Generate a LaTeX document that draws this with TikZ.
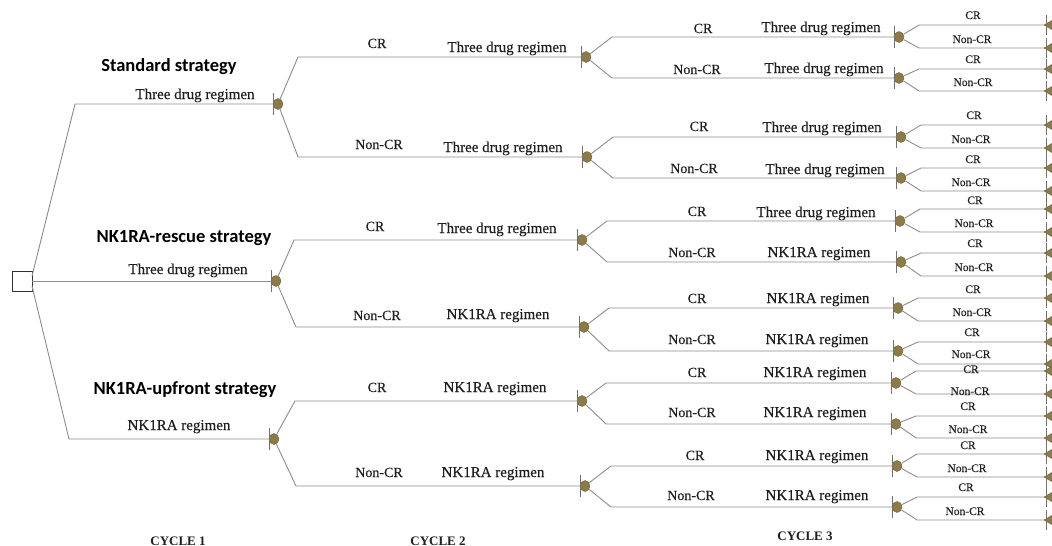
\documentclass[tikz,border=0pt]{standalone}
\usepackage{fontspec}
\setmainfont{Liberation Serif}
\newfontfamily\labfont[FakeBold=0.25]{Liberation Serif}
\newfontfamily\stratfont{Carlito}
\usetikzlibrary{shapes.geometric}
\definecolor{olivefill}{HTML}{8C7B47}
\definecolor{olivedraw}{HTML}{6E6030}
\definecolor{linegray}{HTML}{8C8C8C}
\definecolor{tickgray}{HTML}{707070}
\definecolor{txt}{HTML}{1E1E1E}
\tikzset{
  edge/.style={draw=linegray, line width=0.9pt},
  tickmark/.style={draw=tickgray, line width=0.9pt},
  chance/.style={ellipse, fill=olivefill, draw=olivedraw, line width=0.4pt, minimum width=10pt, minimum height=11pt, inner sep=0pt},
  term/.style={regular polygon, regular polygon sides=3, shape border rotate=90, fill=olivefill, draw=olivedraw, line width=0.4pt, minimum size=13pt, inner sep=0pt},
  decision/.style={rectangle, draw=black!80, line width=0.9pt, fill=white, minimum size=20pt, inner sep=0pt},
  lab/.style={anchor=base, text=txt, inner sep=0pt, font=\labfont\fontsize{14}{16}\selectfont},
  reglab/.style={lab, font=\labfont\fontsize{15}{17}\selectfont},
  smalllab/.style={lab, font=\labfont\fontsize{11.5}{13}\selectfont},
  stratlab/.style={lab, text=black, font=\stratfont\bfseries\fontsize{18.5}{20}\selectfont},
  cyclab/.style={lab, font=\bfseries\fontsize{13}{15}\selectfont},
}
% chance node with tick
\newcommand\chn[3]{\node[chance] (#1) at (#2,#3) {};
  \draw[tickmark] (#2-5,#3-11) -- (#2-5,#3+11);}
% branch from node #1 bending at x=#2 into node #3
\newcommand\brn[3]{\draw[edge] (#1) -- (#2,0 |- #3) -- (#3);}
% terminal pair for cycle-3 node #1 at x #2: CR line y #3, Non-CR line y #4,
% label x #5 (CR), #6 (Non-CR), CR baseline #7, Non-CR baseline #8
\newcommand\terms[8]{%
  \node[term] (#1-t1) at (1050.5,#3) {};
  \node[term] (#1-t2) at (1050.5,#4) {};
  \draw[tickmark] (1046,#3-10) -- (1046,#3+10);
  \draw[tickmark] (1046,#4-10) -- (1046,#4+10);
  \draw[edge] (#1) -- (#2+20,#3) -- (#1-t1);
  \draw[edge] (#1) -- (#2+20,#4) -- (#1-t2);
  \node[smalllab] (#1-l1) at (#5,#7) {CR};
  \node[smalllab] (#1-l2) at (#6,#8) {Non-CR};}
\begin{document}
\begin{tikzpicture}[x=1pt,y=-1pt]
\useasboundingbox (0,0) rectangle (1052,546);
% decision
\node[decision] (D) at (22,281) {};
\coordinate (Dup) at (32,276);
\coordinate (Ddn) at (32,286);
% cycle 1 nodes
\chn{S}{278}{104}
\chn{R}{276}{281}
\chn{U}{274}{439}
\draw[edge] (Dup) -- (75,104) -- (S);
\draw[edge] (D) -- (R);
\draw[edge] (Ddn) -- (69,439) -- (U);
\node[stratlab] (sS) at (169,71) {Standard strategy};
\node[stratlab] (sR) at (184,242) {NK1RA-rescue strategy};
\node[stratlab] (sU) at (185,394) {NK1RA-upfront strategy};
\node[reglab] (rS) at (195,99) {Three drug regimen};
\node[reglab] (rR) at (188,274) {Three drug regimen};
\node[reglab] (rU) at (179,430) {NK1RA regimen};
% cycle 2 nodes
\chn{SC}{586}{57}
\chn{SN}{587}{157}
\chn{RC}{582}{240}
\chn{RN}{584}{327}
\chn{UC}{582}{401}
\chn{UN}{585}{486}
\brn{S}{298}{SC}
\brn{S}{298}{SN}
\brn{R}{294}{RC}
\brn{R}{296}{RN}
\brn{U}{295}{UC}
\brn{U}{296}{UN}
\node[lab] (a1) at (377,48) {CR};
\node[reglab] (b1) at (507,52) {Three drug regimen};
\node[lab] (a2) at (379,149) {Non-CR};
\node[reglab] (b2) at (503,152) {Three drug regimen};
\node[lab] (a3) at (375,231) {CR};
\node[reglab] (b3) at (497,233) {Three drug regimen};
\node[lab] (a4) at (377,320) {Non-CR};
\node[reglab] (b4) at (498,319) {NK1RA regimen};
\node[lab] (a5) at (377,392) {CR};
\node[reglab] (b5) at (495,392) {NK1RA regimen};
\node[lab] (a6) at (379,477) {Non-CR};
\node[reglab] (b6) at (493,477) {NK1RA regimen};
% cycle 3 nodes
\chn{SCC}{899}{37}
\chn{SCN}{899}{78}
\chn{SNC}{901}{137}
\chn{SNN}{901}{178}
\chn{RCC}{900}{221}
\chn{RCN}{901}{262}
\chn{RNC}{898}{308}
\chn{RNN}{898}{351}
\chn{UCC}{896}{383}
\chn{UCN}{896}{424}
\chn{UNC}{897}{466}
\chn{UNN}{897}{507}
\brn{SC}{612}{SCC}
\brn{SC}{612}{SCN}
\brn{SN}{613}{SNC}
\brn{SN}{613}{SNN}
\brn{RC}{607}{RCC}
\brn{RC}{607}{RCN}
\brn{RN}{609}{RNC}
\brn{RN}{609}{RNN}
\brn{UC}{606}{UCC}
\brn{UC}{606}{UCN}
\brn{UN}{611}{UNC}
\brn{UN}{611}{UNN}
\node[lab] (c1) at (703,33) {CR};
\node[reglab] (d1) at (821,32) {Three drug regimen};
\node[lab] (c2) at (697,74) {Non-CR};
\node[reglab] (d2) at (824,73) {Three drug regimen};
\node[lab] (c3) at (699,131) {CR};
\node[reglab] (d3) at (822,132) {Three drug regimen};
\node[lab] (c4) at (694,173) {Non-CR};
\node[reglab] (d4) at (825,174) {Three drug regimen};
\node[lab] (c5) at (697,216) {CR};
\node[reglab] (d5) at (816,217) {Three drug regimen};
\node[lab] (c6) at (692,257) {Non-CR};
\node[reglab] (d6) at (819,257) {NK1RA regimen};
\node[lab] (c7) at (697,303) {CR};
\node[reglab] (d7) at (818,303) {NK1RA regimen};
\node[lab] (c8) at (692,344) {Non-CR};
\node[reglab] (d8) at (817,344) {NK1RA regimen};
\node[lab] (c9) at (697,377) {CR};
\node[reglab] (d9) at (815,377) {NK1RA regimen};
\node[lab] (c10) at (692,417) {Non-CR};
\node[reglab] (d10) at (815,417) {NK1RA regimen};
\node[lab] (c11) at (695,460) {CR};
\node[reglab] (d11) at (817,460) {NK1RA regimen};
\node[lab] (c12) at (691,500) {Non-CR};
\node[reglab] (d12) at (817,500) {NK1RA regimen};
% terminals
\terms{SCC}{899}{25}{48}{973}{972}{19}{43}
\terms{SCN}{899}{69}{91}{973}{973}{63}{86}
\terms{SNC}{901}{125}{148}{974}{971}{119}{143}
\terms{SNN}{901}{168}{191}{973}{971}{163}{186}
\terms{RCC}{900}{209}{232}{975}{974}{204}{227}
\terms{RCN}{901}{253}{276}{975}{974}{247}{271}
\terms{RNC}{898}{298}{321}{973}{972}{293}{316}
\terms{RNN}{898}{342}{364}{972}{971}{336}{358}
\terms{UCC}{896}{371}{394}{971}{970}{373}{395}
\terms{UCN}{896}{416}{438}{968}{968}{410}{433}
\terms{UNC}{897}{454}{477}{968}{967}{449}{472}
\terms{UNN}{897}{497}{520}{966}{965}{491}{515}
% cycle labels
\node[cyclab] (cy1) at (178,545) {CYCLE 1};
\node[cyclab] (cy2) at (438,545) {CYCLE 2};
\node[cyclab] (cy3) at (805,540) {CYCLE 3};
\end{tikzpicture}
\end{document}
